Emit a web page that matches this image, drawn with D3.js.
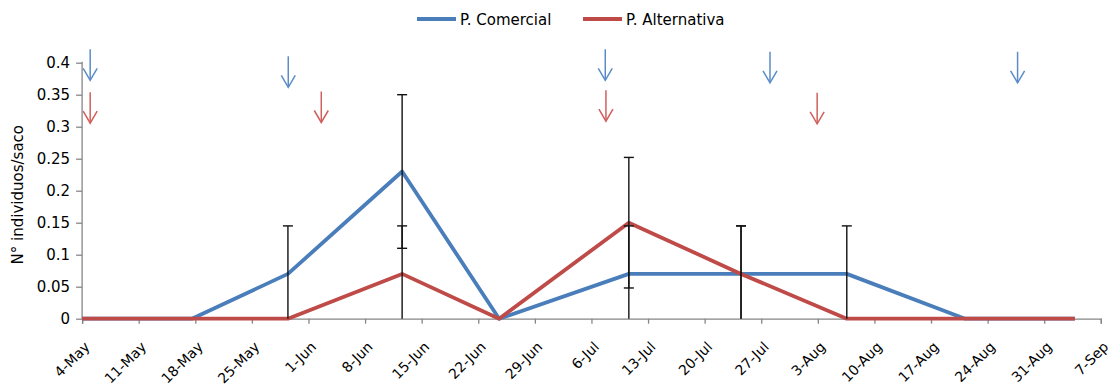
<!DOCTYPE html>
<html>
<head>
<meta charset="utf-8">
<script src="https://cdn.jsdelivr.net/npm/d3@7"></script>
<style>
  html, body { margin: 0; padding: 0; background: #fff; }
  svg { display: block; }
  text { font-family: "DejaVu Sans", sans-serif; }
</style>
</head>
<body>
<svg id="chart" width="1111" height="389"></svg>
<script>
// ---- data ----
const year = 2015;
const sampleDates = ["2015-05-04T00", "2015-05-17T14", "2015-05-29T11", "2015-06-12T14", "2015-06-24T14",
                     "2015-07-10T15", "2015-07-24T12", "2015-08-06T14", "2015-08-21T05", "2015-09-03T19"];
const comercial      = [0, 0, 0.07, 0.23, 0, 0.07, 0.07, 0.07, 0, 0];
const comercialErr   = [0, 0, 0.075, 0.12, 0, 0.075, 0.075, 0.075, 0, 0];
const alternativa    = [0, 0, 0, 0.07, 0, 0.15, 0.07, 0, 0, 0];
const alternativaErr = [0, 0, 0, 0.075, 0, 0.102, 0.075, 0, 0, 0];
const tickLabels = ["4-May", "11-May", "18-May", "25-May", "1-Jun", "8-Jun", "15-Jun", "22-Jun", "29-Jun",
                    "6-Jul", "13-Jul", "20-Jul", "27-Jul", "3-Aug", "10-Aug", "17-Aug", "24-Aug", "31-Aug", "7-Sep"];
const yTicks = [0, 0.05, 0.1, 0.15, 0.2, 0.25, 0.3, 0.35, 0.4];
// application arrows (date, top value)
const comercialArrowDates = ["2015-05-05T00", "2015-05-29T12", "2015-07-07T17", "2015-07-28T02", "2015-08-27T17"];
const comercialArrowTop   = [0.421, 0.410, 0.421, 0.417, 0.417];
const alternativaArrowDates = ["2015-05-05T00", "2015-06-02T14", "2015-07-07T19", "2015-08-02T22"];
const alternativaArrowTop   = [0.354, 0.355, 0.357, 0.353];
const seriesNames = ["P. Comercial", "P. Alternativa"];
const seriesColors = ["#4A7EBB", "#BE4B48"];
const arrowColors = ["#5B8CC8", "#D0605D"];

// ---- layout ----
const svg = d3.select("#chart");
const parseT = d3.utcParse("%Y-%m-%dT%H");
const parseTick = d3.utcParse("%d-%b-%Y");
const tickDates = tickLabels.map(l => parseTick(l + "-" + year));

const x = d3.scaleUtc().domain([tickDates[0], tickDates[tickDates.length - 1]]).range([82.1, 1100.8]);
const y = d3.scaleLinear().domain([0, 0.4]).range([318.7, 62.7]);

const axisColor = "#868686";

// y axis
const yAxis = svg.append("g").attr("transform", "translate(82.1,0)")
  .call(d3.axisLeft(y).tickValues(yTicks).tickSize(6).tickPadding(6)
    .tickFormat(d => d === 0 ? "0" : String(+d.toFixed(2))));
yAxis.select(".domain").attr("stroke", axisColor).attr("stroke-width", 1.3).attr("d", `M0,${y(0.4) - 1}V${y(0)}`);
yAxis.selectAll(".tick line").attr("stroke", axisColor).attr("stroke-width", 1.3);
yAxis.selectAll(".tick text").attr("fill", "#000").style("font-size", "15px");

// x axis
const xAxis = svg.append("g").attr("transform", `translate(0,${y(0)})`)
  .call(d3.axisBottom(x).tickValues(tickDates).tickSize(5).tickFormat((d, i) => tickLabels[i]));
xAxis.select(".domain").attr("stroke", axisColor).attr("stroke-width", 1.3);
xAxis.selectAll(".tick line").attr("stroke", axisColor).attr("stroke-width", 1.3);
xAxis.selectAll(".tick text")
  .attr("fill", "#000").style("font-size", "14px")
  .attr("text-anchor", "end")
  .attr("y", 0).attr("dy", 0)
  .attr("transform", "translate(8,29) rotate(-45)");

// y axis title
svg.append("text")
  .attr("transform", `translate(23,${(y(0) + y(0.4)) / 2 + 4}) rotate(-90)`)
  .attr("text-anchor", "middle").style("font-size", "15px").attr("fill", "#000")
  .text("N° individuos/saco");

// series lines
const dates = sampleDates.map(parseT);
const seriesVals = [comercial, alternativa];
const seriesErrs = [comercialErr, alternativaErr];
const line = d3.line().x(d => x(d[0])).y(d => y(d[1]));
seriesVals.forEach((vals, s) => {
  svg.append("path")
    .datum(dates.map((d, i) => [d, vals[i]]))
    .attr("fill", "none").attr("stroke", seriesColors[s]).attr("stroke-width", 3.8)
    .attr("stroke-linejoin", "round").attr("d", line);
});

// error bars
seriesVals.forEach((vals, s) => {
  const errs = seriesErrs[s];
  dates.forEach((d, i) => {
    if (!errs[i]) return;
    const cx = x(d);
    const top = vals[i] + errs[i];
    const low = vals[i] - errs[i];
    const g = svg.append("g").attr("stroke", "#111").attr("stroke-width", 1.4);
    g.append("line").attr("x1", cx).attr("x2", cx).attr("y1", y(top)).attr("y2", y(Math.max(0, low)));
    g.append("line").attr("x1", cx - 5).attr("x2", cx + 5).attr("y1", y(top)).attr("y2", y(top));
    if (low >= 0) g.append("line").attr("x1", cx - 5).attr("x2", cx + 5).attr("y1", y(low)).attr("y2", y(low));
  });
});

// arrows
function drawArrows(dateStrs, tops, color) {
  dateStrs.forEach((ds, i) => {
    const ax = x(parseT(ds));
    const y1 = y(tops[i]);
    const y2 = y1 + 31;
    const g = svg.append("g").attr("stroke", color).attr("stroke-width", 1.5).attr("fill", "none");
    g.append("line").attr("x1", ax).attr("x2", ax).attr("y1", y1).attr("y2", y2);
    g.append("path").attr("d", `M${ax - 7},${y2 - 12}L${ax},${y2}L${ax + 7},${y2 - 12}`);
  });
}
drawArrows(comercialArrowDates, comercialArrowTop, arrowColors[0]);
drawArrows(alternativaArrowDates, alternativaArrowTop, arrowColors[1]);

// legend
const legendX = [417, 583];
seriesNames.forEach((name, s) => {
  const g = svg.append("g").attr("transform", `translate(${legendX[s]},19)`);
  g.append("line").attr("x1", 0).attr("x2", 39).attr("y1", 0).attr("y2", 0)
    .attr("stroke", seriesColors[s]).attr("stroke-width", 3.8);
  g.append("text").attr("x", 43).attr("y", 6).style("font-size", "15px").attr("fill", "#000").text(name);
});
</script>
</body>
</html>
